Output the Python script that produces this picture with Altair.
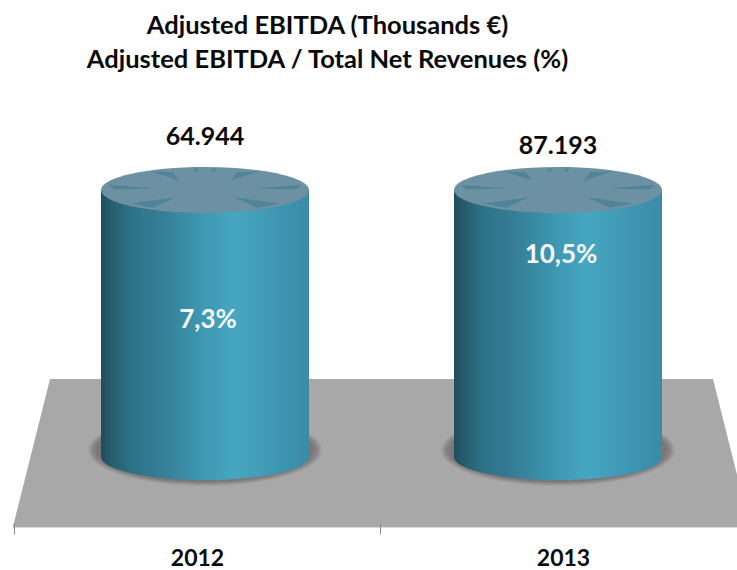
import altair as alt
import pandas as pd

# Chart values
years = ["2012", "2013"]
ebitda = [64.944, 87.193]
ebitda_labels = ["64.944", "87.193"]
margin = [7.3, 10.5]
margin_labels = ["7,3%", "10,5%"]

table = pd.DataFrame(
    {"year": years, "ebitda": ebitda, "ebitda_label": ebitda_labels,
     "margin": margin, "margin_label": margin_labels}
)

FONT = "Lato"
CYL_W = 208

# Cylinders keep the same drawn height; the value scale saturates at the first value.
x_cyl = alt.Scale(type="point", domain=years, range=[205, 558], padding=0)
y_val = alt.Scale(domain=[0, 64.944, 87.193], range=[367, 100, 100])
y_pct = alt.Scale(domain=[7.3, 10.5], range=[230, 165])

X = alt.X("year:N", scale=x_cyl, axis=None)
Y = alt.Y("ebitda:Q", scale=y_val, axis=None)

body_fill = alt.Gradient(
    gradient="linear", x1=0, x2=1, y1=0, y2=0,
    stops=[
        alt.GradientStop(offset=0.0, color="#1e4d5f"),
        alt.GradientStop(offset=0.06, color="#28606f"),
        alt.GradientStop(offset=0.14, color="#2e7186"),
        alt.GradientStop(offset=0.3, color="#367f97"),
        alt.GradientStop(offset=0.5, color="#3f99b3"),
        alt.GradientStop(offset=0.64, color="#46a6c1"),
        alt.GradientStop(offset=0.88, color="#3c94af"),
        alt.GradientStop(offset=1.0, color="#3a8ba6"),
    ],
)


def ellipse(rx, ry, dy=0):
    return f"M{-rx} {dy}A{rx} {ry} 0 1 0 {rx} {dy}A{rx} {ry} 0 1 0 {-rx} {dy}Z"


def triangles(points):
    out = ""
    for tri in points:
        for sign in (-1, 1):
            xy = [f"{sign * px * CYL_W / 2:.1f} {py * CYL_W / 2:.1f}" for px, py in tri]
            out += "M" + "L".join(xy) + "Z"
    return out


def symbol(path, **kw):
    # size=4 makes one unit of the path equal to one pixel
    return alt.Chart(table).mark_point(filled=True, shape=path, size=4, **kw)


floor_edge = "M-331 -74L331 -74L369 75L-369 75Z"
floor_path = "M-331.5 -74L331.5 -74L368.5 74L-368.5 74Z"
floor_spec = alt.Chart(pd.DataFrame({"n": [0]}))
floor = alt.layer(
    floor_spec.mark_point(filled=True, shape=floor_edge, size=4, color="#dcdcdc", opacity=1)
    .encode(x=alt.value(381.5), y=alt.value(363)),
    floor_spec.mark_point(filled=True, shape=floor_path, size=4, color="#a8a8a8", opacity=1)
    .encode(x=alt.value(381.5), y=alt.value(363)),
)

# Year axis: ticks sit on the band edges, labels in the band centres
axis_layer = (
    alt.Chart(table)
    .mark_point(opacity=0)
    .encode(
        x=alt.X(
            "year:N",
            scale=alt.Scale(type="band", domain=years, range=[14, 746], padding=0),
            axis=alt.Axis(
                title=None, labelAngle=0, domain=False, tickBand="extent", tickSize=11,
                tickColor="#8c8c8c", labelFont=FONT, labelFontWeight="bold",
                labelFontSize=23, labelColor="#0a0a0a", labelPadding=13, zindex=1,
            ),
        ),
    )
)

# Soft contact shadow built from stacked translucent ellipses
shadow = alt.layer(
    *[
        symbol(ellipse(rx, ry, -7), color="#767072", opacity=op).encode(
            x=X, y=alt.Y("zero:Q", scale=y_val, axis=None)
        ).transform_calculate(zero="0")
        for rx, ry, op in [
            (117, 36, 0.15), (115.5, 35, 0.2), (114, 34, 0.3), (112, 33, 0.4), (109, 32, 0.6),
        ]
    ]
)

body = alt.Chart(table).mark_bar(size=CYL_W, color=body_fill, opacity=1).encode(
    x=X, y=Y, y2=alt.datum(0)
)

base_cap = symbol(
    f"M{-CYL_W / 2} 0A{CYL_W / 2} 23 0 0 0 {CYL_W / 2} 0Z", color=body_fill, opacity=1
).encode(x=X, y=alt.Y("zero:Q", scale=y_val, axis=None)).transform_calculate(zero="0")

top_cap = symbol(ellipse(CYL_W / 2, 23), color="#6b91a3", opacity=1).encode(x=X, y=Y)

spokes = symbol(
    triangles(
        [
            [(0.52, -0.18), (0.31, -0.17), (0.25, -0.09)],
            [(0.93, -0.05), (0.49, -0.015), (0.88, -0.005)],
            [(0.72, 0.13), (0.28, 0.07), (0.5, 0.17)],
            [(0.11, -0.205), (0.055, -0.205), (0.08, -0.17)],
        ]
    ),
    color="#4f8499",
    opacity=1,
).encode(x=X, y=Y)

value_labels = alt.layer(
    *[
        alt.Chart(table)
        .transform_filter(alt.datum.year == year)
        .mark_text(font=FONT, fontWeight="bold", fontSize=25, color="#0a0a0a", dy=dy)
        .encode(x=X, y=Y, text="ebitda_label:N")
        for year, dy in zip(years, [-53, -44])
    ]
)

pct_labels = (
    alt.Chart(table)
    .mark_text(font=FONT, fontWeight="bold", fontSize=26, color="#f4f8fa", dx=3)
    .encode(x=X, y=alt.Y("margin:Q", scale=y_pct, axis=None), text="margin_label:N")
)

chart = (
    alt.layer(
        floor, axis_layer, shadow, body, base_cap, top_cap, spokes, value_labels, pct_labels
    )
    .resolve_scale(x="independent", y="independent")
    .properties(
        width=737,
        height=433,
        padding={"left": 0, "right": 0, "top": 90, "bottom": 47},
        autosize=alt.AutoSizeParams(type="none"),
        title=alt.TitleParams(
            text=["Adjusted EBITDA (Thousands €)", "Adjusted EBITDA / Total Net Revenues (%)"],
            font=FONT, fontWeight="bold", fontSize=25.5, color="#0a0a0a",
            lineHeight=34, anchor="middle", dx=-41, offset=17,
        ),
    )
    .configure_view(stroke=None)
    .configure_axis(grid=False)
)

chart.save("out.html", embed_options={"renderer": "svg", "actions": False})
